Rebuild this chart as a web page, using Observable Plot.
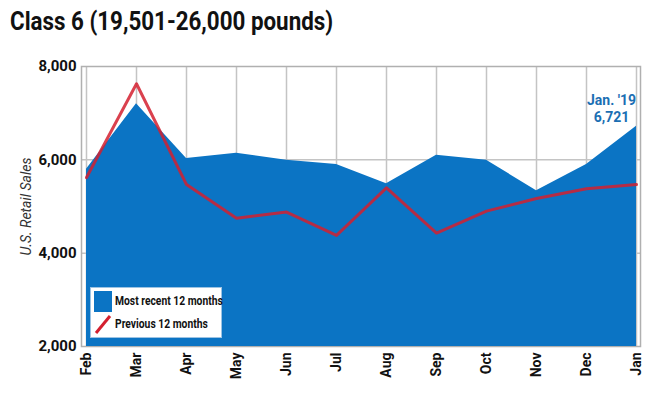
<!DOCTYPE html>
<html>
<head>
<meta charset="utf-8">
<script src="https://cdn.jsdelivr.net/npm/d3@7"></script>
<script src="https://cdn.jsdelivr.net/npm/@observablehq/plot@0.6"></script>
<style>
  body { margin: 0; background: #fff; }
  #wrap { position: relative; width: 650px; height: 399px; font-family: Roboto, "Liberation Sans", sans-serif; }
  #title { position: absolute; left: 10px; top: 6px; font-size: 26px; font-weight: bold; color: #111; white-space: nowrap; transform: scaleX(0.86); transform-origin: left top; }
  #chart { position: absolute; left: 0; top: 50px; }
  #legend { position: absolute; left: 90px; top: 287px; width: 132px; height: 51px; background: #fff; border: 1px solid #9cc3e3; box-sizing: border-box; font-size: 12px; font-weight: bold; color: #111; }
  .row { position: absolute; left: 3px; height: 22px; display: flex; align-items: center; white-space: nowrap; }
  .row span { margin-left: 3px; display: inline-block; transform: scaleX(0.86); transform-origin: left center; }
  g[aria-label="y-axis label"] text { font-style: italic; font-weight: normal; fill: #333; }
</style>
</head>
<body>
<div id="wrap">
  <div id="title">Class 6 (19,501-26,000 pounds)</div>
  <div id="chart"></div>
  <div id="legend">
    <div class="row" style="top:2px"><div style="width:18px;height:21px;background:#0b74c4"></div><span>Most recent 12 months</span></div>
    <div class="row" style="top:25px"><svg width="18" height="22"><line x1="2" y1="20" x2="16" y2="3" stroke="#d4202f" stroke-width="3"/></svg><span>Previous 12 months</span></div>
  </div>
</div>
<script>
const months = ["Feb","Mar","Apr","May","Jun","Jul","Aug","Sep","Oct","Nov","Dec","Jan"];
const recent = [5800, 7200, 6030, 6140, 5990, 5900, 5490, 6100, 5990, 5340, 5900, 6721];
const previous = [5620, 7630, 5470, 4750, 4880, 4380, 5400, 4430, 4900, 5170, 5380, 5470];
const yTicks = [2000, 4000, 6000, 8000];
const annotation = "Jan. '19\n6,721";

const data = months.map((m, i) => ({month: m, recent: recent[i], previous: previous[i]}));
const last = [data[data.length - 1]];

const chart = Plot.plot({
  width: 650,
  height: 349,
  marginLeft: 81,
  marginRight: 10,
  marginTop: 16,
  marginBottom: 53,
  style: {fontFamily: "Roboto, 'Liberation Sans', sans-serif", fontSize: "14px", fontWeight: "bold", color: "#111", background: "#fff"},
  x: {type: "point", domain: months, padding: 0},
  y: {domain: [2000, 8000]},
  marks: [
    Plot.gridX(months, {stroke: "#c4c4c4", strokeOpacity: 1, strokeWidth: 1.5}),
    Plot.gridY([4000, 6000], {stroke: "#c4c4c4", strokeOpacity: 1, strokeWidth: 1.5}),
    Plot.frame({stroke: "#b0b0b0", strokeWidth: 1.5}),
    Plot.areaY(data, {x: "month", y1: 2000, y2: "recent", fill: "#0b74c4", curve: "linear"}),
    Plot.lineY(data, {x: "month", y: "previous", stroke: "#d4202f", strokeWidth: 3, strokeOpacity: 0.85}),
    Plot.text(last, {x: "month", y: "recent", text: () => annotation, fill: "#1b6fb3", fontSize: 14, fontWeight: "bold", textAnchor: "middle", dx: -25, dy: -4, lineAnchor: "bottom", lineHeight: 1.25}),
    Plot.axisY(yTicks, {tickSize: 0, tickPadding: 5, tickFormat: d3.format(","), fontSize: 15, label: "U.S. Retail Sales", labelAnchor: "center", labelArrow: "none", labelOffset: 60}),
    Plot.axisX(months, {tickSize: 0, tickPadding: 6, tickRotate: -90, fontSize: 14, label: null})
  ]
});
chart.querySelectorAll('g[aria-label="y-axis label"] text').forEach(t => t.setAttribute("font-size", 14));
document.getElementById("chart").appendChild(chart);
</script>
</body>
</html>
